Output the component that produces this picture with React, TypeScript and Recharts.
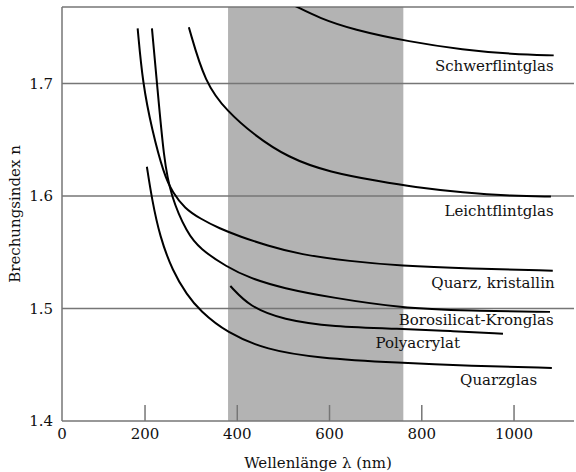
import React from 'react';
import {
  LineChart,
  Line,
  XAxis,
  YAxis,
  ReferenceArea,
  ReferenceLine,
  ReferenceDot,
} from 'recharts';

// wavelength in nm, refractive index n
const schwerflint = [
  { wl: 525, n: 1.769 }, { wl: 579, n: 1.758 }, { wl: 650, n: 1.748 },
  { wl: 774, n: 1.737 }, { wl: 889, n: 1.73 }, { wl: 997, n: 1.726 },
  { wl: 1086, n: 1.725 },
];
const leichtflint = [
  { wl: 295, n: 1.75 }, { wl: 330, n: 1.7 }, { wl: 379, n: 1.675 },
  { wl: 434, n: 1.655 }, { wl: 510, n: 1.634 }, { wl: 601, n: 1.621 },
  { wl: 709, n: 1.613 }, { wl: 781, n: 1.608 }, { wl: 889, n: 1.603 },
  { wl: 997, n: 1.6 }, { wl: 1080, n: 1.5995 },
];
const quarzKristallin = [
  { wl: 184, n: 1.749 }, { wl: 195, n: 1.7 }, { wl: 215, n: 1.659 },
  { wl: 241, n: 1.619 }, { wl: 260, n: 1.603 }, { wl: 286, n: 1.589 },
  { wl: 319, n: 1.58 }, { wl: 362, n: 1.571 }, { wl: 406, n: 1.564 },
  { wl: 464, n: 1.556 }, { wl: 536, n: 1.548 }, { wl: 644, n: 1.542 },
  { wl: 752, n: 1.538 }, { wl: 904, n: 1.5354 }, { wl: 1084, n: 1.5336 },
];
const borosilicat = [
  { wl: 215, n: 1.749 }, { wl: 226, n: 1.7 }, { wl: 241, n: 1.632 },
  { wl: 256, n: 1.6 }, { wl: 291, n: 1.567 }, { wl: 319, n: 1.553 },
  { wl: 377, n: 1.537 }, { wl: 427, n: 1.527 }, { wl: 499, n: 1.518 },
  { wl: 607, n: 1.5095 }, { wl: 752, n: 1.5006 }, { wl: 904, n: 1.498 },
  { wl: 1078, n: 1.497 },
];
const polyacrylat = [
  { wl: 385, n: 1.52 }, { wl: 427, n: 1.5015 }, { wl: 499, n: 1.49 },
  { wl: 607, n: 1.4837 }, { wl: 752, n: 1.4819 }, { wl: 861, n: 1.4801 },
  { wl: 976, n: 1.4775 },
];
const quarzglas = [
  { wl: 204, n: 1.626 }, { wl: 215, n: 1.597 }, { wl: 232, n: 1.564 },
  { wl: 260, n: 1.533 }, { wl: 291, n: 1.512 }, { wl: 319, n: 1.498 },
  { wl: 377, n: 1.4784 }, { wl: 464, n: 1.4632 }, { wl: 572, n: 1.4561 },
  { wl: 752, n: 1.4516 }, { wl: 904, n: 1.449 }, { wl: 1082, n: 1.4472 },
];

const seriesList = [
  { name: 'Schwerflintglas', data: schwerflint },
  { name: 'Leichtflintglas', data: leichtflint },
  { name: 'Quarz, kristallin', data: quarzKristallin },
  { name: 'Borosilicat-Kronglas', data: borosilicat },
  { name: 'Polyacrylat', data: polyacrylat },
  { name: 'Quarzglas', data: quarzglas },
];

// where each name sits (right end of text)
const labelSpots = [
  { text: 'Schwerflintglas', wl: 1086, n: 1.716 },
  { text: 'Leichtflintglas', wl: 1086, n: 1.587 },
  { text: 'Quarz, kristallin', wl: 1088, n: 1.523 },
  { text: 'Borosilicat-Kronglas', wl: 1086, n: 1.49 },
  { text: 'Polyacrylat', wl: 883, n: 1.470 },
  { text: 'Quarzglas', wl: 1050, n: 1.437 },
];

const X_MIN = 20;
const X_MAX = 1130;
const Y_MIN = 1.4;
const Y_MAX = 1.768;
const xTicks = [20, 200, 400, 600, 800, 1000];
const yTicks = [1.4, 1.5, 1.6, 1.7];
const visibleBand = [380, 760];

const font = 'DejaVu Serif';
const gray = '#767676';
const tickLen = 16 / 1125;
const textStyle = { fontFamily: font, fontSize: 15, fill: '#111' };

export default function App() {
  return (
    <div style={{ position: 'absolute', left: 0, top: 0, background: '#fff', fontFamily: font }}>
      <LineChart
        width={576}
        height={472}
        margin={{ top: 7, right: 2, left: 0, bottom: 0 }}
        style={{ fontFamily: font }}
      >
        <XAxis
          type="number"
          dataKey="wl"
          domain={[X_MIN, X_MAX]}
          ticks={xTicks}
          allowDataOverflow
          tickFormatter={(v: number) => (v === X_MIN ? '0' : String(v))}
          tickLine={false}
          tickSize={0}
          tickMargin={7}
          height={51}
          axisLine={{ stroke: gray, strokeWidth: 1.5 }}
          tick={textStyle}
          label={{
            value: 'Wellenlänge λ (nm)',
            position: 'insideBottom',
            offset: 4,
            style: textStyle,
          }}
        />
        <YAxis
          type="number"
          dataKey="n"
          domain={[Y_MIN, Y_MAX]}
          ticks={yTicks}
          allowDataOverflow
          tickFormatter={(v: number) => v.toFixed(1)}
          tickLine={false}
          tickSize={0}
          tickMargin={9}
          width={62}
          axisLine={{ stroke: gray, strokeWidth: 1.5 }}
          tick={textStyle}
          label={{
            value: 'Brechungsindex n',
            angle: -90,
            position: 'insideLeft',
            offset: 15,
            style: { ...textStyle, textAnchor: 'middle' },
          }}
        />
        <ReferenceArea
          x1={visibleBand[0]}
          x2={visibleBand[1]}
          y1={Y_MIN}
          y2={Y_MAX}
          fill="#b3b3b3"
          fillOpacity={1}
          stroke="none"
        />
        {[...yTicks.slice(1), Y_MAX].map((t) => (
          <ReferenceLine key={'g' + t} y={t} stroke={gray} strokeWidth={1.5} />
        ))}
        {xTicks.slice(1).map((t) => (
          <ReferenceLine
            key={'t' + t}
            segment={[{ x: t, y: Y_MIN }, { x: t, y: Y_MIN + tickLen }]}
            stroke={gray}
            strokeWidth={1.5}
          />
        ))}
        {seriesList.map((s) => (
          <Line
            key={s.name}
            name={s.name}
            data={s.data}
            dataKey="n"
            type="basis"
            stroke="#000"
            strokeWidth={2}
            dot={false}
            isAnimationActive={false}
          />
        ))}
        {labelSpots.map((l) => (
          <ReferenceDot
            key={l.text}
            x={l.wl}
            y={l.n}
            r={0}
            stroke="none"
            fill="none"
            label={{
              value: l.text,
              position: 'left',
              offset: 0,
              style: textStyle,
            }}
          />
        ))}
      </LineChart>
    </div>
  );
}
